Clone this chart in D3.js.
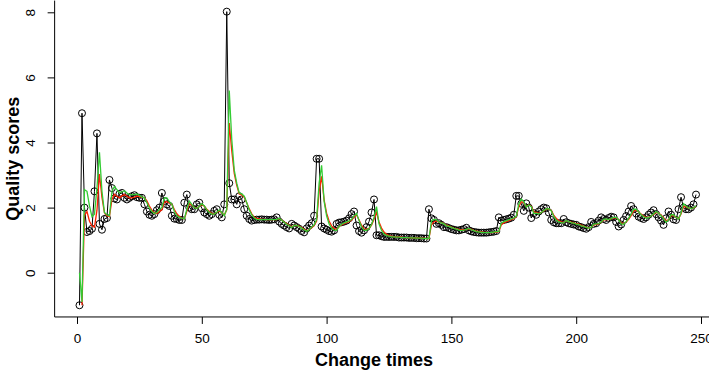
<!DOCTYPE html>
<html>
<head>
<meta charset="utf-8">
<script src="https://cdn.jsdelivr.net/npm/d3@7"></script>
<style>
  body { margin: 0; background: #fff; }
  svg { display: block; font-family: "Liberation Sans", Arial, sans-serif; }
</style>
</head>
<body>
<div id="chart"></div>
<script>
// observed quality scores, one per change (t = 1..248)
const scores = [
  -1.0, 4.9, 2.0, 1.25, 1.28, 1.35, 2.5, 4.28, 1.5, 1.32,
  1.65, 1.68, 2.85, 2.6, 2.28, 2.25, 2.42, 2.45, 2.3, 2.25,
  2.3, 2.35, 2.38, 2.32, 2.3, 2.3, 2.1, 1.88, 1.78, 1.75,
  1.8, 1.92, 2.0, 2.45, 2.2, 2.1, 2.05, 1.75, 1.66, 1.65,
  1.62, 1.62, 2.15, 2.4, 2.0, 1.95, 1.95, 2.1, 2.15, 1.98,
  1.85, 1.8, 1.75, 1.8, 1.9, 1.95, 1.78, 1.7, 2.1, 8.02,
  2.75, 2.25, 2.25, 2.1, 2.35, 2.25, 1.95, 1.75, 1.65, 1.6,
  1.62, 1.63, 1.63, 1.64, 1.63, 1.63, 1.62, 1.63, 1.64, 1.7,
  1.57, 1.5, 1.45, 1.4, 1.36, 1.5, 1.45, 1.4, 1.35, 1.28,
  1.24, 1.36, 1.45, 1.52, 1.75, 3.5, 3.5, 1.42, 1.36, 1.32,
  1.28, 1.26, 1.3, 1.5, 1.54, 1.55, 1.57, 1.6, 1.67, 1.8,
  1.88, 1.45, 1.28, 1.23, 1.3, 1.4, 1.57, 1.85, 2.25, 1.15,
  1.15, 1.12, 1.1, 1.1, 1.1, 1.1, 1.1, 1.1, 1.08, 1.08,
  1.08, 1.08, 1.07, 1.07, 1.07, 1.06, 1.06, 1.06, 1.05, 1.05,
  1.95, 1.67, 1.62, 1.5, 1.52, 1.47, 1.4, 1.4, 1.37, 1.34,
  1.32, 1.3, 1.3, 1.32, 1.34, 1.38, 1.3, 1.27, 1.25, 1.24,
  1.23, 1.23, 1.23, 1.23, 1.24, 1.25, 1.26, 1.28, 1.7, 1.6,
  1.62, 1.64, 1.66, 1.69, 1.78, 2.36, 2.36, 2.12, 1.9, 2.13,
  2.0, 1.68, 1.83, 1.78, 1.88, 1.95, 2.0, 1.98, 1.85, 1.62,
  1.55, 1.52, 1.52, 1.52, 1.65, 1.55, 1.52, 1.5, 1.48, 1.47,
  1.42, 1.4, 1.37, 1.35, 1.4, 1.56, 1.5, 1.52, 1.6, 1.7,
  1.65, 1.62, 1.68, 1.72, 1.7, 1.56, 1.42, 1.48, 1.62, 1.74,
  1.88, 2.05, 1.95, 1.82, 1.72, 1.68, 1.65, 1.7, 1.78, 1.85,
  1.92, 1.8, 1.7, 1.6, 1.47, 1.67, 1.88, 1.78, 1.64, 1.62,
  1.95, 2.32, 2.0, 1.95, 1.95, 2.0, 2.1, 2.4
];

// red smoothed line (no value at t = 1)
const redFit = [
  null, -1.0, 1.77, 1.88, 1.58, 1.44, 1.40, 1.92, 3.03, 2.31,
  1.84, 1.75, 1.72, 2.25, 2.41, 2.35, 2.30, 2.36, 2.40, 2.35,
  2.30, 2.30, 2.32, 2.35, 2.34, 2.32, 2.31, 2.21, 2.05, 1.92,
  1.84, 1.82, 1.87, 1.93, 2.17, 2.18, 2.14, 2.10, 1.94, 1.81,
  1.73, 1.68, 1.65, 1.89, 2.13, 2.07, 2.01, 1.98, 2.04, 2.09,
  2.04, 1.95, 1.88, 1.82, 1.81, 1.85, 1.90, 1.84, 1.77, 1.93,
  4.60, 3.75, 3.05, 2.68, 2.42, 2.39, 2.32, 2.15, 1.96, 1.81,
  1.71, 1.67, 1.65, 1.64, 1.64, 1.63, 1.63, 1.63, 1.63, 1.63,
  1.66, 1.62, 1.56, 1.51, 1.46, 1.41, 1.45, 1.45, 1.43, 1.39,
  1.34, 1.29, 1.32, 1.38, 1.45, 1.59, 2.49, 2.96, 2.24, 1.83,
  1.59, 1.44, 1.36, 1.33, 1.41, 1.47, 1.51, 1.54, 1.57, 1.62,
  1.70, 1.78, 1.62, 1.46, 1.35, 1.33, 1.36, 1.46, 1.64, 1.85,
  1.56, 1.37, 1.25, 1.18, 1.14, 1.12, 1.11, 1.10, 1.10, 1.09,
  1.08, 1.08, 1.08, 1.07, 1.07, 1.07, 1.06, 1.06, 1.06, 1.05,
  1.05, 1.47, 1.56, 1.59, 1.55, 1.54, 1.51, 1.46, 1.43, 1.40,
  1.37, 1.35, 1.33, 1.32, 1.32, 1.33, 1.35, 1.33, 1.30, 1.28,
  1.26, 1.25, 1.24, 1.24, 1.23, 1.23, 1.24, 1.25, 1.26, 1.47,
  1.53, 1.57, 1.60, 1.63, 1.66, 1.72, 2.02, 2.18, 2.15, 2.03,
  2.08, 2.04, 1.87, 1.85, 1.82, 1.85, 1.90, 1.95, 1.96, 1.91,
  1.77, 1.67, 1.60, 1.56, 1.54, 1.59, 1.57, 1.55, 1.53, 1.51,
  1.49, 1.46, 1.43, 1.40, 1.38, 1.39, 1.47, 1.48, 1.50, 1.55,
  1.62, 1.63, 1.63, 1.65, 1.68, 1.69, 1.63, 1.53, 1.51, 1.56,
  1.64, 1.75, 1.89, 1.92, 1.87, 1.80, 1.74, 1.70, 1.70, 1.74,
  1.79, 1.85, 1.83, 1.77, 1.69, 1.59, 1.63, 1.75, 1.76, 1.70,
  1.66, 1.80, 2.04, 2.02, 1.99, 1.97, 1.98, 2.04
];

// green smoothed line
const greenFit = [
  0.0, -0.9, 2.55, 2.5, 2.05, 1.72, 1.8, 2.6, 3.7, 2.5,
  1.85, 1.78, 1.75, 2.5, 2.65, 2.55, 2.45, 2.48, 2.52, 2.45,
  2.4, 2.4, 2.4, 2.42, 2.38, 2.33, 2.3, 2.15, 1.98, 1.88,
  1.82, 1.85, 1.95, 2.0, 2.3, 2.3, 2.18, 2.1, 1.88, 1.75,
  1.7, 1.68, 1.65, 1.95, 2.2, 2.1, 2.0, 1.97, 2.05, 2.12,
  2.05, 1.93, 1.85, 1.8, 1.8, 1.86, 1.93, 1.85, 1.75, 1.95,
  5.6, 4.1, 3.15, 2.75, 2.45, 2.42, 2.35, 2.15, 1.93, 1.78,
  1.68, 1.64, 1.63, 1.63, 1.63, 1.63, 1.63, 1.63, 1.63, 1.63,
  1.67, 1.61, 1.55, 1.49, 1.44, 1.39, 1.45, 1.45, 1.42, 1.37,
  1.32, 1.27, 1.32, 1.4, 1.47, 1.63, 2.75, 3.3, 2.2, 1.75,
  1.5, 1.37, 1.31, 1.3, 1.42, 1.49, 1.53, 1.56, 1.59, 1.64,
  1.74, 1.82, 1.6, 1.41, 1.3, 1.3, 1.36, 1.48, 1.7, 2.03,
  1.5, 1.3, 1.19, 1.14, 1.12, 1.1, 1.1, 1.09, 1.09, 1.08,
  1.08, 1.08, 1.07, 1.07, 1.07, 1.06, 1.06, 1.06, 1.05, 1.05,
  1.05, 1.59, 1.64, 1.63, 1.55, 1.53, 1.5, 1.44, 1.42, 1.39,
  1.36, 1.34, 1.31, 1.3, 1.31, 1.33, 1.36, 1.32, 1.29, 1.26,
  1.25, 1.24, 1.23, 1.23, 1.23, 1.24, 1.25, 1.26, 1.27, 1.53,
  1.57, 1.6, 1.63, 1.65, 1.68, 1.74, 2.11, 2.26, 2.18, 2.01,
  2.08, 2.03, 1.82, 1.83, 1.8, 1.85, 1.91, 1.96, 1.97, 1.9,
  1.73, 1.62, 1.56, 1.54, 1.53, 1.6, 1.57, 1.54, 1.52, 1.49,
  1.48, 1.44, 1.42, 1.39, 1.37, 1.39, 1.49, 1.5, 1.51, 1.56,
  1.64, 1.65, 1.63, 1.66, 1.7, 1.7, 1.62, 1.5, 1.49, 1.57,
  1.67, 1.8, 1.95, 1.95, 1.87, 1.78, 1.72, 1.68, 1.69, 1.74,
  1.81, 1.88, 1.83, 1.75, 1.66, 1.55, 1.62, 1.78, 1.78, 1.7,
  1.65, 1.83, 2.12, 2.05, 1.99, 1.97, 1.99, 2.06
];

const xTicks = [0, 50, 100, 150, 200, 250];
const yTicks = [0, 2, 4, 6, 8];

const width = 709, height = 371;

const x = d3.scaleLinear().domain([0, 250]).range([77, 701]);
const y = d3.scaleLinear().domain([0, 8]).range([272.7, 12.3]);

// plot region (R pads the data range by 4%)
const xMin = x(-8.96), yMin = y(-1.36), yMax = y(8.36);

const svg = d3.select("#chart").append("svg")
  .attr("width", width)
  .attr("height", height);

// L-shaped box
svg.append("path")
  .attr("d", `M${xMin},${yMax}V${yMin}H${width}`)
  .attr("fill", "none")
  .attr("stroke", "#000")
  .attr("stroke-width", 1);

const xAxis = svg.append("g")
  .attr("transform", `translate(0,${yMin})`)
  .call(d3.axisBottom(x).tickValues(xTicks).tickSize(7).tickPadding(9).tickFormat(d3.format("d")));
xAxis.select(".domain").remove();
xAxis.selectAll("text").attr("font-size", 13.5).attr("fill", "#000").attr("font-family", "Liberation Sans, Arial, sans-serif");

const yAxis = svg.append("g")
  .attr("transform", `translate(${xMin},0)`)
  .call(d3.axisLeft(y).tickValues(yTicks).tickSize(7).tickFormat(d3.format("d")));
yAxis.select(".domain").remove();
yAxis.selectAll("text")
  .attr("font-size", 13.5).attr("fill", "#000")
  .attr("font-family", "Liberation Sans, Arial, sans-serif")
  .attr("x", null).attr("dy", null)
  .attr("text-anchor", "middle")
  .attr("transform", "translate(-24,0) rotate(-90)")
  .attr("dy", "0.35em");

const pts = scores.map((v, i) => ({ t: i + 1, v: v }));

const line = d3.line()
  .defined(d => d.v != null)
  .x(d => x(d.t))
  .y(d => y(d.v));

// observed series: line + open circles
svg.append("path")
  .datum(pts)
  .attr("d", line)
  .attr("fill", "none")
  .attr("stroke", "#000")
  .attr("stroke-width", 1);

svg.append("g")
  .selectAll("circle")
  .data(pts)
  .join("circle")
  .attr("cx", d => x(d.t))
  .attr("cy", d => y(d.v))
  .attr("r", 3.5)
  .attr("fill", "none")
  .attr("stroke", "#000")
  .attr("stroke-width", 1);

svg.append("path")
  .datum(redFit.map((v, i) => ({ t: i + 1, v: v })))
  .attr("d", line)
  .attr("fill", "none")
  .attr("stroke", "#ff2200")
  .attr("stroke-width", 1.3);

svg.append("path")
  .datum(greenFit.map((v, i) => ({ t: i + 1, v: v })))
  .attr("d", line)
  .attr("fill", "none")
  .attr("stroke", "#33cc33")
  .attr("stroke-width", 1.3);

// axis titles
svg.append("text")
  .attr("x", 374)
  .attr("y", 366)
  .attr("text-anchor", "middle")
  .attr("font-size", 18)
  .attr("font-weight", "bold")
  .text("Change times");

svg.append("text")
  .attr("transform", `translate(19,${(yMax + yMin) / 2}) rotate(-90)`)
  .attr("text-anchor", "middle")
  .attr("font-size", 18)
  .attr("font-weight", "bold")
  .text("Quality scores");
</script>
</body>
</html>
